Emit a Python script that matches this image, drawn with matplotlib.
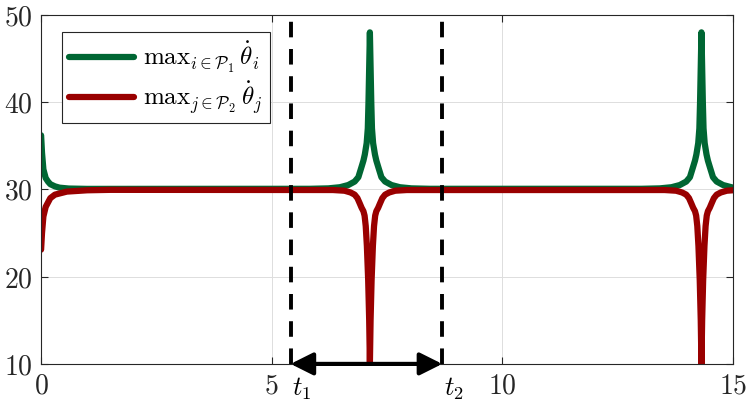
import matplotlib
matplotlib.use('Agg')
import matplotlib.pyplot as plt
from matplotlib.ticker import FuncFormatter

plt.rcParams['mathtext.fontset'] = 'cm'
plt.rcParams['font.family'] = 'serif'
plt.rcParams['font.serif'] = ['DejaVu Serif']

# values
green_t = [0, 0.02, 0.05, 0.1, 0.15, 0.2, 0.3, 0.4, 0.6, 1.0,
           5.83, 6.23, 6.48, 6.66, 6.80, 6.88, 6.95, 6.99, 7.02, 7.06,
           7.085, 7.10, 7.115, 7.13,
           7.145, 7.16, 7.175, 7.20, 7.24, 7.27, 7.31, 7.38, 7.46, 7.60,
           7.78, 8.03, 8.43,
           13.02, 13.42, 13.67, 13.85, 13.99, 14.07, 14.14, 14.18, 14.21,
           14.25, 14.275, 14.29, 14.305, 14.32,
           14.335, 14.35, 14.365, 14.39, 14.43, 14.46, 14.50, 14.57, 14.65,
           14.79, 14.97, 15.0]
green_v = [36.2, 34.2, 32.3, 31.3, 30.9, 30.6, 30.35, 30.2, 30.1, 30.06,
           30.07, 30.12, 30.25, 30.5, 30.9, 31.4, 32.6, 33.3, 34.0, 35.3,
           37.0, 40.0, 44.0, 48.0,
           44.0, 40.0, 37.0, 35.3, 34.0, 33.3, 32.6, 31.4, 30.9, 30.5,
           30.25, 30.12, 30.07,
           30.07, 30.12, 30.25, 30.5, 30.9, 31.4, 32.6, 33.3, 34.0,
           35.3, 37.0, 40.0, 44.0, 48.0,
           44.0, 40.0, 37.0, 35.3, 34.0, 33.3, 32.6, 31.4, 30.9,
           30.5, 30.25, 30.22]

red_t = [0, 0.02, 0.05, 0.1, 0.2, 0.3, 0.56, 1.0, 1.5,
         6.33, 6.58, 6.71, 6.80, 6.86, 6.91, 6.95, 6.99, 7.015, 7.04,
         7.065, 7.093, 7.115, 7.13,
         7.145, 7.167, 7.195, 7.22, 7.245, 7.27, 7.31, 7.35, 7.40, 7.46,
         7.55, 7.68, 7.93,
         13.52, 13.77, 13.90, 13.99, 14.05, 14.10, 14.14, 14.18, 14.205,
         14.23, 14.255, 14.283, 14.305, 14.32,
         14.335, 14.357, 14.385, 14.41, 14.435, 14.46, 14.50, 14.54, 14.59,
         14.65, 14.74, 14.87, 15.0]
red_v = [23.1, 25.0, 26.9, 28.0, 29.0, 29.4, 29.75, 29.9, 29.95,
         29.93, 29.85, 29.65, 29.4, 29.0, 28.4, 27.9, 27.5, 27.0, 25.8,
         23.5, 19.6, 15.0, 10.0,
         15.0, 19.6, 23.5, 25.8, 27.0, 27.5, 27.9, 28.4, 29.0, 29.4,
         29.65, 29.85, 29.93,
         29.93, 29.85, 29.65, 29.4, 29.0, 28.4, 27.9, 27.5, 27.0,
         25.8, 23.5, 19.6, 15.0, 10.0,
         15.0, 19.6, 23.5, 25.8, 27.0, 27.5, 27.9, 28.4, 29.0,
         29.4, 29.65, 29.85, 29.9]

t1, t2 = 5.41, 8.70
xticks = [0, 5, 10, 15]
yticks = [10, 20, 30, 40, 50]

green = '#006633'
red = '#990000'

fig = plt.figure(figsize=(7.47, 4.03), dpi=100)
ax = fig.add_axes([0.055, 0.097, 0.926, 0.866])

ax.plot(green_t, green_v, color=green, lw=4.5, solid_joinstyle='round',
        solid_capstyle='round',
        label=r'$\mathrm{max}_{i\in\mathcal{P}_1}\,\dot{\theta}_i$')
ax.plot(red_t, red_v, color=red, lw=4.5, solid_joinstyle='round',
        solid_capstyle='round',
        label=r'$\mathrm{max}_{j\in\mathcal{P}_2}\,\dot{\theta}_j$')

for t in (t1, t2):
    ax.plot([t, t], [10, 50], color='k', lw=2.8, linestyle=(0, (4, 3)))

ax.annotate('', xy=(t1, 10), xytext=(t2, 10),
            arrowprops=dict(arrowstyle='<|-|>', color='k', lw=3,
                            mutation_scale=34, shrinkA=0, shrinkB=0))
ax.text(t1 + 0.25, 7.2, r'$t_1$', fontsize=19, ha='center', va='center')
ax.text(t2 + 0.25, 7.2, r'$t_2$', fontsize=19, ha='center', va='center')

ax.set_xlim(0, 15)
ax.set_ylim(10, 50)
ax.set_xticks(xticks)
ax.set_yticks(yticks)
fmt = FuncFormatter(lambda v, p: r'$%d$' % v)
ax.xaxis.set_major_formatter(fmt)
ax.yaxis.set_major_formatter(fmt)
ax.tick_params(direction='in', length=5, width=0.8, labelsize=20,
               top=True, right=True, colors='#262626', pad=6)
ax.grid(True, color='#dddddd', lw=0.7)
ax.set_axisbelow(True)
for s in ax.spines.values():
    s.set_color('#262626')
    s.set_linewidth(0.8)

leg = ax.legend(loc='upper left', bbox_to_anchor=(0.03, 0.95), fontsize=18,
                fancybox=False, edgecolor='#262626', framealpha=1,
                handlelength=2.6, handletextpad=0.35, borderpad=0.3,
                labelspacing=0.15, borderaxespad=0)
leg.get_frame().set_linewidth(0.8)

fig.savefig('out.png', dpi=100)
